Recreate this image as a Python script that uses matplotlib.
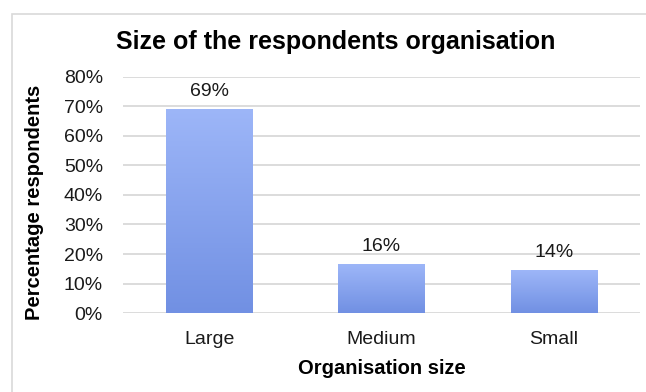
import numpy as np
import matplotlib
matplotlib.use('Agg')
import matplotlib.pyplot as plt
from matplotlib.patches import Rectangle
from matplotlib.colors import LinearSegmentedColormap
from matplotlib.ticker import PercentFormatter

# ── data ──────────────────────────────────────────────────────────────────────

categories = ['Large', 'Medium', 'Small']
shares = [0.69, 0.165, 0.145]
labels = ['69%', '16%', '14%']
yticks = [0.0, 0.1, 0.2, 0.3, 0.4, 0.5, 0.6, 0.7, 0.8]

plt.rcParams['font.family'] = ['Liberation Sans', 'DejaVu Sans']

fig = plt.figure(figsize=(6.46, 3.92), dpi=100)
ax = fig.add_axes([0.1904, 0.2008, 0.8003, 0.604])

# light frame around the chart
fig.patches.append(Rectangle((12 / 646, -0.05), 1.0, 1 - 14 / 392 + 0.05,
                             transform=fig.transFigure, fill=False,
                             edgecolor='#d9d9d9', linewidth=1.2))

grad = LinearSegmentedColormap.from_list('bar', ['#7190e3', '#9db6f8'])
x = np.arange(len(categories))
width = 0.5

for xi, val, lab in zip(x, shares, labels):
    bar = ax.bar(xi, val, width=width, color='none', edgecolor='none', zorder=3)[0]
    img = ax.imshow(np.linspace(0, 1, 256).reshape(-1, 1), cmap=grad, origin='lower',
                    extent=[xi - width / 2, xi + width / 2, 0, val],
                    aspect='auto', zorder=3)
    img.set_clip_path(bar)
    ax.text(xi, val + 0.032, lab, ha='center', va='bottom', fontsize=14, color='#1a1a1a')

ax.set_xlim(-0.5, 2.5)
ax.set_ylim(0, 0.8)
ax.set_yticks(yticks)
ax.yaxis.set_major_formatter(PercentFormatter(1.0, decimals=0))
ax.set_xticks(x)
ax.set_xticklabels(categories)
ax.tick_params(length=0, labelsize=14, colors='#1a1a1a')
ax.tick_params(axis='y', pad=14.5)
ax.tick_params(axis='x', pad=13)

ax.grid(axis='y', color='#d9d9d9', linewidth=1.3, zorder=0)
ax.set_axisbelow(True)
for s in ax.spines.values():
    s.set_visible(False)

ax.set_xlabel('Organisation size', fontsize=14.5, fontweight='bold', labelpad=8)
ax.set_ylabel('Percentage respondents', fontsize=14.5, fontweight='bold')
ax.yaxis.set_label_coords(-0.153, 0.47)
fig.text(0.519, 0.893, 'Size of the respondents organisation', ha='center', va='center',
         fontsize=18, fontweight='bold')

fig.savefig('out.png', dpi=100)
